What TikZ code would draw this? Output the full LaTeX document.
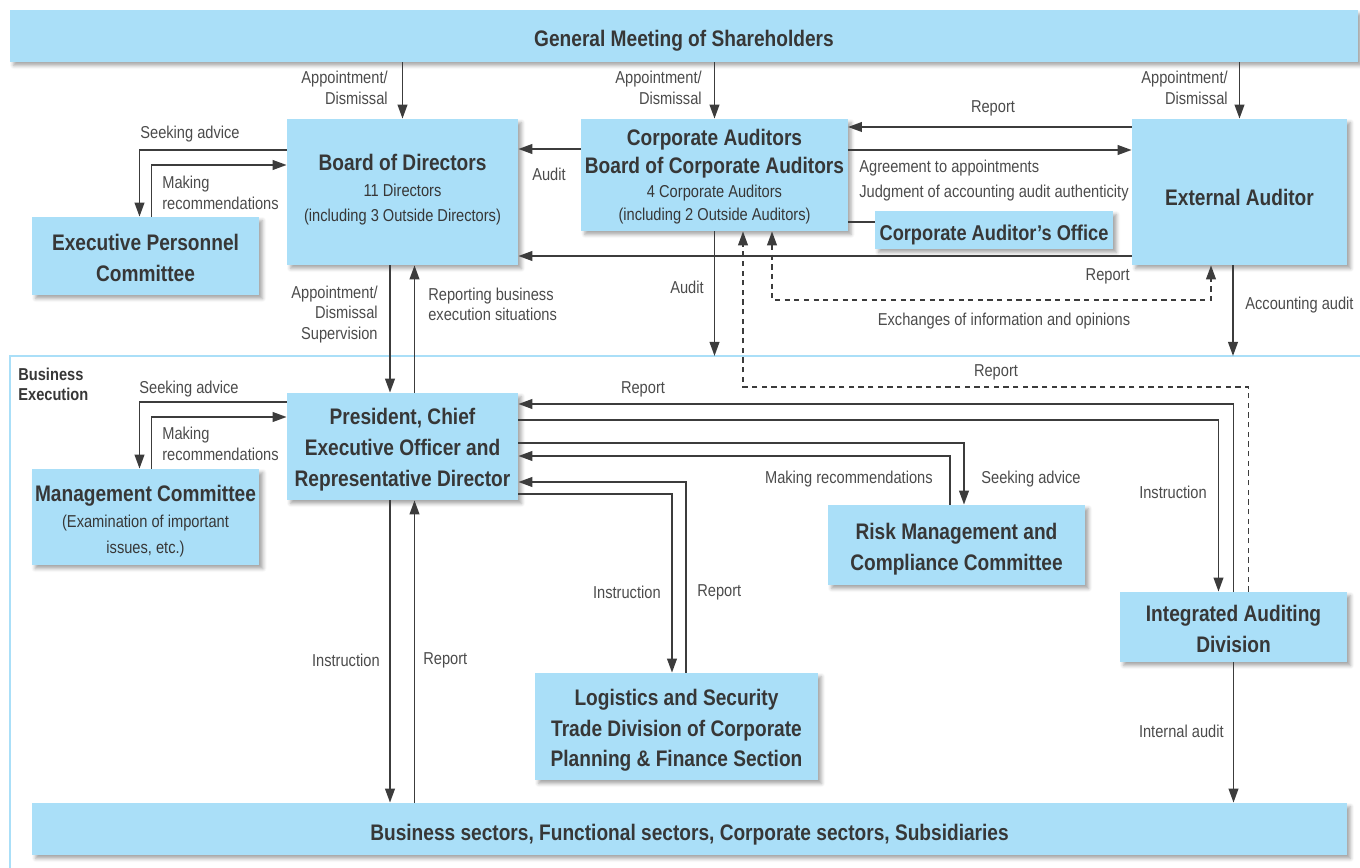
\documentclass[tikz,border=0pt]{standalone}
\usepackage{fontspec}
\setmainfont{Liberation Sans}[FakeStretch=0.85]
\usetikzlibrary{arrows.meta,shadows.blur}
\definecolor{boxblue}{RGB}{170,223,248}
\definecolor{linegray}{RGB}{60,60,60}
\definecolor{titlegray}{RGB}{55,55,55}
\definecolor{labelgray}{RGB}{75,75,75}
\newcommand{\boxtitle}{\bfseries\fontsize{12.8}{17.5}\selectfont}
\newcommand{\boxsub}{\fontsize{9.8}{14}\selectfont}
\newcommand{\lblfont}{\fontsize{9.8}{11.6}\selectfont}
\newcommand{\lowerby}[1]{\rule{0pt}{#1}}

\begin{document}
\begin{tikzpicture}[
  x=0.02cm, y=-0.02cm,
  >={Triangle[length=8pt,width=5.5pt]},
  box/.style={fill=boxblue, text=titlegray, align=center, inner sep=2pt, font=\boxtitle,
    blur shadow={shadow xshift=2pt, shadow yshift=-2pt, shadow blur radius=2pt, shadow opacity=35}},
  textlow/.style={execute at begin node={\rule{0pt}{#1}}},
  textup/.style={execute at end node={\rule[-#1]{0pt}{#1}}},
  lbl/.style={text=labelgray, font=\lblfont, inner sep=0pt},
  arr/.style={draw=linegray, line width=1.1pt, ->},
  plainline/.style={draw=linegray, line width=1.1pt},
  dasharr/.style={arr, dash pattern=on 3pt off 2.5pt},
  execframe/.style={draw=boxblue, line width=1.6pt}
  ]
  \useasboundingbox (0,0) rectangle (1360,868);
  \coordinate (exec) at (10,356);
  \draw[execframe] (exec -| 1370,0) -- (exec) -- (10,880);
  \node[lbl, anchor=west, align=left, font=\lblfont\bfseries, text=titlegray] (busexec) at (18,384.5) {Business\\Execution};

  \node[box, textlow=15pt, minimum width=26.96cm, minimum height=1.04cm] (gm) at (684,36) {General Meeting of Shareholders};
  \node[box, textup=4.9pt, font=\boxsub, minimum width=4.62cm, minimum height=2.92cm] (bod) at (402.5,192)
    {{\boxtitle Board of Directors}\\[0.8pt]11 Directors\\[0.6pt](including 3 Outside Directors)};
  \node[box, font=\boxsub, minimum width=5.26cm, minimum height=2.24cm] (ca) at (714.5,175)
    {{\boxtitle\lowerby{11pt}Corporate Auditors}\\[2.4pt]{\boxtitle Board of Corporate Auditors}\\[-0.4pt]4 Corporate Auditors\\[-1pt](including 2 Outside Auditors)};
  \node[box, textlow=16pt, minimum width=4.30cm, minimum height=2.92cm] (ea) at (1239.5,192) {External Auditor};
  \node[box, textlow=15pt, font=\bfseries\fontsize{12.2}{17}\selectfont, minimum width=4.76cm, minimum height=0.60cm] (cao) at (994,230) {Corporate Auditor’s Office};
  \node[box, minimum width=4.54cm, minimum height=1.56cm] (epc) at (145.5,256) {\lowerby{11.6pt}Executive Personnel\\Committee};
  \node[box, minimum width=4.62cm, minimum height=2.14cm] (pres) at (402.5,446.5)
    {\lowerby{12.7pt}President, Chief\\Executive Officer and\\Representative Director};
  \node[box, font=\boxsub, minimum width=4.54cm, minimum height=1.92cm] (mc) at (145.5,517)
    {{\boxtitle\lowerby{13.8pt}Management Committee}\\[0.8pt](Examination of important\\[0.6pt]issues, etc.)};
  \node[box, minimum width=5.14cm, minimum height=1.60cm] (rmc) at (956.5,545) {\lowerby{13.8pt}Risk Management and\\Compliance Committee};
  \node[box, minimum width=4.54cm, minimum height=1.40cm] (iad) at (1233.5,627) {\lowerby{11.6pt}Integrated Auditing\\Division};
  \node[box, minimum width=5.66cm, minimum height=2.14cm] (lsd) at (676.5,726.5)
    {\lowerby{13.8pt}Logistics and Security\\Trade Division of Corporate\\Planning \& Finance Section};
  \node[box, textlow=16pt, minimum width=26.30cm, minimum height=1.04cm] (bs) at (689.5,829)
    {Business sectors, Functional sectors, Corporate sectors, Subsidiaries};

  \draw[arr] (gm.south -| bod.north) -- (bod.north);
  \draw[arr] (gm.south -| ca.north) -- (ca.north);
  \draw[arr] (gm.south -| ea.north) -- (ea.north);
  \node[lbl, anchor=east, align=right] (apbod) at (388,88) {Appointment/\\Dismissal};
  \node[lbl, anchor=east, align=right] (apca) at (702,88) {Appointment/\\Dismissal};
  \node[lbl, anchor=east, align=right] (apea) at (1228,88) {Appointment/\\Dismissal};

  \draw[arr] (bod.west |- 0,150) -| ([xshift=-0.12cm]epc.north);
  \draw[arr] ([xshift=0.12cm]epc.north) |- (bod.west |- 0,165);
  \node[lbl] (seekepc) at (190,134) {Seeking advice};
  \node[lbl, anchor=west, align=left] (recepc) at (162,193) {Making\\recommendations};

  \draw[arr] (ca.west |- 0,149) -- (bod.east |- 0,149);
  \node[lbl] (auditbod) at (549,174) {Audit};
  \draw[arr] (ea.west |- 0,127) -- (ca.east |- 0,127);
  \node[lbl] (repca) at (993,108) {Report};
  \draw[arr] (ca.east |- 0,150) -- (ea.west |- 0,150);
  \node[lbl, anchor=west, align=left] (agree) at (859,180.5)
    {Agreement to appointments\\[2.6pt]Judgment of accounting audit authenticity};
  \draw[plainline] (ca.east |- 0,222) -- (cao.west |- 0,222);
  \draw[arr] (ea.west |- 0,256) -- (bod.east |- 0,256);
  \node[lbl, anchor=east] (repbod) at (1130,276) {Report};

  \draw[dasharr, <->] (ca.south -| 772,0) -- (772,300) -- (1211,300) -- (ea.south -| 1211,0);
  \node[lbl] (exch) at (1004,321) {Exchanges of information and opinions};
  \draw[arr] (ca.south) -- (ca.south |- exec);
  \node[lbl] (auditexec) at (687,287) {Audit};
  \draw[arr] ([xshift=-0.13cm]ea.south) -- ([xshift=-0.13cm]ea.south |- exec);
  \node[lbl, anchor=west] (accaudit) at (1245,305) {Accounting audit};
  \draw[dasharr] ([xshift=0.3cm]iad.north) |- (743,387) -- (ca.south -| 743,0);
  \node[lbl] (repdash) at (996,372) {Report};

  \draw[arr] ([xshift=-0.25cm]bod.south) -- ([xshift=-0.25cm]pres.north);
  \draw[arr] ([xshift=0.24cm]pres.north) -- ([xshift=0.24cm]bod.south);
  \node[lbl, anchor=east, align=right] (apsup) at (378,314.5) {Appointment/\\Dismissal\\Supervision};
  \node[lbl, anchor=west, align=left] (repbus) at (428,304.5) {Reporting business\\execution situations};

  \draw[arr] (pres.west |- 0,402) -| ([xshift=-0.12cm]mc.north);
  \draw[arr] ([xshift=0.12cm]mc.north) |- (pres.west |- 0,417);
  \node[lbl] (seekmc) at (189,389) {Seeking advice};
  \node[lbl, anchor=west, align=left] (recmc) at (162,444) {Making\\recommendations};

  \draw[arr] (iad.north) |- (pres.east |- 0,404);
  \node[lbl] (repiad) at (643,389) {Report};
  \draw[arr] (pres.east |- 0,420) -| ([xshift=-0.3cm]iad.north);
  \node[lbl] (instiad) at (1173,492) {Instruction};

  \draw[arr] (pres.east |- 0,443) -| ([xshift=0.15cm]rmc.north);
  \draw[arr] ([xshift=-0.13cm]rmc.north) |- (pres.east |- 0,456);
  \node[lbl, anchor=east] (recrmc) at (933,479) {Making recommendations};
  \node[lbl, anchor=west] (seekrmc) at (981,479) {Seeking advice};

  \draw[arr] ([xshift=0.19cm]lsd.north) |- (pres.east |- 0,482);
  \draw[arr] (pres.east |- 0,494) -| ([xshift=-0.09cm]lsd.north);
  \node[lbl, anchor=east] (instlsd) at (661,592) {Instruction};
  \node[lbl, anchor=west] (replsd) at (697,592) {Report};

  \draw[arr] ([xshift=-0.25cm]pres.south) -- ([xshift=-0.25cm]pres.south |- bs.north);
  \draw[arr] ([xshift=0.24cm]pres.south |- bs.north) -- ([xshift=0.24cm]pres.south);
  \node[lbl, anchor=east] (instbs) at (380,660) {Instruction};
  \node[lbl, anchor=west] (repbs) at (423,660) {Report};

  \draw[arr] (iad.south) -- (iad.south |- bs.north);
  \node[lbl, anchor=east] (intaudit) at (1224,731) {Internal audit};
\end{tikzpicture}
\end{document}
